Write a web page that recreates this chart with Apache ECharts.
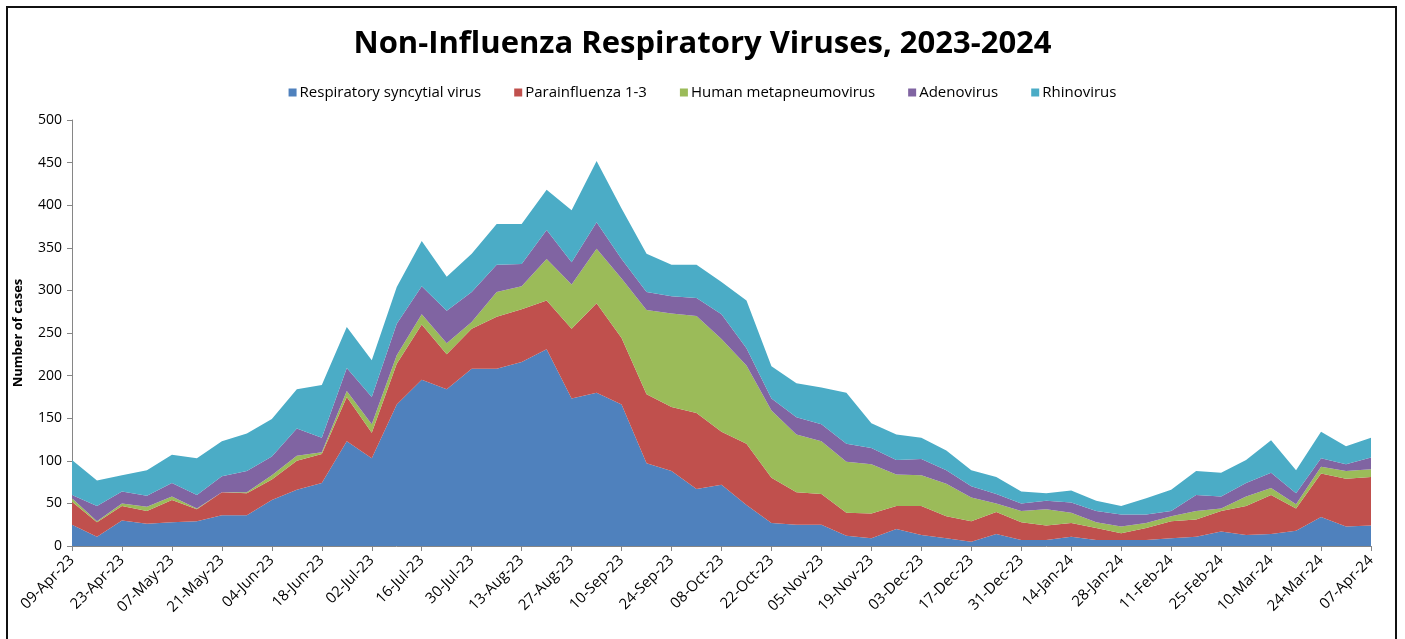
<!DOCTYPE html>
<html>
<head>
<meta charset="utf-8">
<title>Non-Influenza Respiratory Viruses, 2023-2024</title>
<script src="https://cdn.jsdelivr.net/npm/echarts@6/dist/echarts.min.js"></script>
<style>
  html, body { margin: 0; padding: 0; background: #fff; overflow: hidden; }
  #chart { width: 1405px; height: 639px; }
  .frame {
    position: absolute; left: 6px; top: 6px; width: 1391px; height: 700px;
    border: 2px solid #111; box-sizing: border-box; pointer-events: none;
  }
</style>
</head>
<body>
<div id="chart"></div>
<div class="frame"></div>
<script>
// weekly report dates
const weeks = [
  '09-Apr-23', '16-Apr-23', '23-Apr-23', '30-Apr-23', '07-May-23', '14-May-23', '21-May-23', '28-May-23',
  '04-Jun-23', '11-Jun-23', '18-Jun-23', '25-Jun-23', '02-Jul-23', '09-Jul-23', '16-Jul-23', '23-Jul-23',
  '30-Jul-23', '06-Aug-23', '13-Aug-23', '20-Aug-23', '27-Aug-23', '03-Sep-23', '10-Sep-23', '17-Sep-23',
  '24-Sep-23', '01-Oct-23', '08-Oct-23', '15-Oct-23', '22-Oct-23', '29-Oct-23', '05-Nov-23', '12-Nov-23',
  '19-Nov-23', '26-Nov-23', '03-Dec-23', '10-Dec-23', '17-Dec-23', '24-Dec-23', '31-Dec-23', '07-Jan-24',
  '14-Jan-24', '21-Jan-24', '28-Jan-24', '04-Feb-24', '11-Feb-24', '18-Feb-24', '25-Feb-24', '03-Mar-24',
  '10-Mar-24', '17-Mar-24', '24-Mar-24', '31-Mar-24', '07-Apr-24'
]

const rsv = [
  25, 11, 30, 26, 28, 29, 36, 36, 54, 66, 74, 123, 103, 166, 195, 184, 208, 208,
  216, 231, 173, 180, 166, 97, 88, 67, 72, 48, 27, 25, 25, 12, 9, 20, 13, 9,
  5, 14, 7, 7, 11, 7, 7, 7, 9, 11, 17, 13, 14, 18, 34, 23, 24
]
const parainfluenza = [
  27, 17, 17, 15, 26, 14, 27, 26, 24, 34, 34, 52, 30, 48, 65, 41, 47, 61,
  62, 57, 82, 105, 78, 81, 75, 89, 62, 72, 53, 38, 36, 27, 29, 27, 34, 26,
  24, 26, 21, 17, 16, 14, 8, 14, 20, 20, 24, 34, 46, 26, 51, 56, 57
]
const metapneumo = [
  4, 1, 3, 5, 4, 1, 0, 1, 5, 6, 2, 7, 10, 10, 12, 13, 8, 29,
  27, 49, 52, 64, 70, 99, 110, 114, 109, 92, 79, 68, 62, 60, 58, 37, 36, 38,
  28, 10, 13, 19, 12, 7, 8, 6, 6, 10, 3, 11, 8, 5, 8, 9, 9
]
const adenovirus = [
  4, 18, 14, 13, 16, 16, 19, 25, 22, 32, 17, 27, 32, 37, 33, 38, 35, 32,
  26, 34, 26, 31, 23, 21, 20, 21, 29, 20, 14, 20, 20, 21, 19, 17, 19, 16,
  13, 11, 9, 10, 12, 13, 14, 10, 6, 19, 14, 16, 18, 13, 10, 8, 14
]
const rhinovirus = [
  41, 30, 19, 30, 33, 43, 41, 44, 44, 46, 62, 48, 43, 43, 53, 40, 45, 48,
  47, 47, 61, 72, 59, 45, 37, 39, 38, 56, 38, 40, 43, 60, 29, 30, 25, 23,
  19, 20, 14, 9, 14, 12, 10, 19, 25, 28, 28, 27, 38, 27, 31, 21, 23
]

const seriesNames = [
  'Respiratory syncytial virus', 'Parainfluenza 1-3', 'Human metapneumovirus', 'Adenovirus', 'Rhinovirus'
]
const seriesData = [rsv, parainfluenza, metapneumo, adenovirus, rhinovirus]
const seriesColors = ['#4F81BD', '#C0504D', '#9BBB59', '#8064A2', '#4BACC6']

const font = 'Open Sans'
const chart = echarts.init(document.getElementById('chart'))

chart.setOption({
  animation: false,
  color: seriesColors,
  title: {
    text: 'Non-Influenza Respiratory Viruses, 2023-2024',
    left: 'center',
    top: 24,
    textStyle: { fontFamily: font, fontSize: 31, fontWeight: 'bold', color: '#000' }
  },
  legend: {
    top: 80,
    left: 'center',
    itemWidth: 8,
    itemHeight: 8,
    itemGap: 33,
    icon: 'rect',
    textStyle: { fontFamily: font, fontSize: 15, color: '#000', padding: [0, 0, 0, -2] },
    data: seriesNames
  },
  grid: { left: 72, right: 34, top: 120, bottom: 93, containLabel: false },
  xAxis: {
    type: 'category',
    data: weeks,
    boundaryGap: false,
    axisLine: { lineStyle: { color: '#868686', width: 1 } },
    axisTick: { show: true, interval: 1, length: 5, lineStyle: { color: '#868686' } },
    axisLabel: { interval: 1, rotate: 45, margin: 12, fontFamily: font, fontSize: 15, color: '#000' },
    splitLine: { show: false }
  },
  yAxis: {
    type: 'value',
    min: 0,
    max: 500,
    interval: 50,
    name: 'Number of cases',
    nameLocation: 'middle',
    nameGap: 47,
    nameRotate: 90,
    nameTextStyle: { fontFamily: font, fontSize: 13, fontWeight: 'bold', color: '#000' },
    axisLine: { show: true, lineStyle: { color: '#868686' } },
    axisTick: { show: true, length: 5, lineStyle: { color: '#868686' } },
    axisLabel: { margin: 10, fontFamily: font, fontSize: 14, color: '#000' },
    splitLine: { show: false }
  },
  series: seriesNames.map((name, i) => ({
    name,
    type: 'line',
    stack: 'cases',
    data: seriesData[i],
    showSymbol: false,
    symbol: 'none',
    lineStyle: { width: 0 },
    areaStyle: { color: seriesColors[i], opacity: 1 },
    itemStyle: { color: seriesColors[i] }
  }))
})
</script>
</body>
</html>
